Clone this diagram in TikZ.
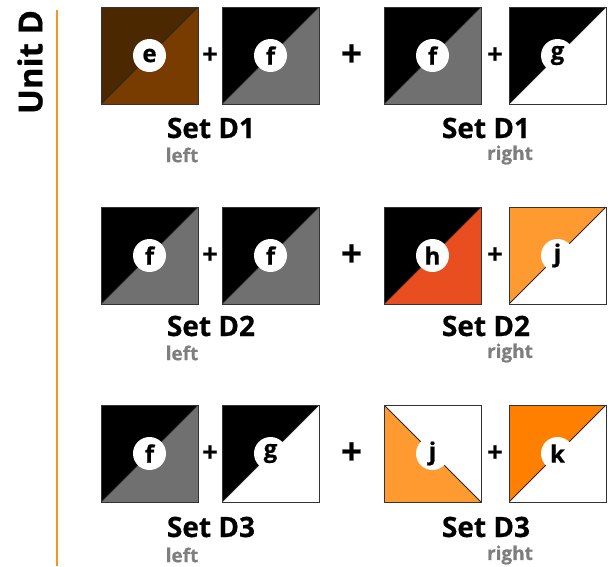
\documentclass[tikz,border=0pt]{standalone}
\usepackage{fontspec}
\setmainfont{Open Sans}[BoldFeatures={FakeBold=0.6}]
\usetikzlibrary{positioning, calc}
\definecolor{brownDark}{HTML}{4B2800}
\definecolor{brownLight}{HTML}{783C00}
\definecolor{midGray}{HTML}{707070}
\definecolor{hRed}{HTML}{E84E1F}
\definecolor{jOrange}{HTML}{FF9A30}
\definecolor{kOrange}{HTML}{FF8000}
\definecolor{ruleOrange}{HTML}{F7941D}
\tikzset{
  % tiles: #1 upper-left half, #2 lower-right half
  tile/.style 2 args={rectangle, minimum size=97pt, inner sep=0pt, outer sep=0pt, draw=black!80, line width=1pt,
    path picture={
      \fill[#1] (path picture bounding box.south west) -- (path picture bounding box.north west) -- (path picture bounding box.north east) -- cycle;
      \fill[#2] (path picture bounding box.south west) -- (path picture bounding box.south east) -- (path picture bounding box.north east) -- cycle;
      \draw[black!85, line width=1pt] (path picture bounding box.south west) -- (path picture bounding box.north east);
    }},
  % flipped tiles: #1 lower-left half, #2 upper-right half
  tileflip/.style 2 args={rectangle, minimum size=97pt, inner sep=0pt, outer sep=0pt, draw=black!80, line width=1pt,
    path picture={
      \fill[#1] (path picture bounding box.north west) -- (path picture bounding box.south west) -- (path picture bounding box.south east) -- cycle;
      \fill[#2] (path picture bounding box.north west) -- (path picture bounding box.north east) -- (path picture bounding box.south east) -- cycle;
      \draw[black!85, line width=1pt] (path picture bounding box.north west) -- (path picture bounding box.south east);
    }},
  badge/.style={circle, fill=white, minimum size=33pt, inner sep=0pt, font=\bfseries\fontsize{24}{24}\selectfont},
  plus/.style={font=\bfseries\fontsize{27}{27}\selectfont, inner sep=0pt},
  bigplus/.style={font=\bfseries\fontsize{37}{37}\selectfont, inner sep=0pt},
  setlabel/.style={font=\bfseries\fontsize{28}{28}\selectfont, inner sep=0pt},
  sidelabel/.style={font=\bfseries\fontsize{19}{19}\selectfont, text=midGray!90, inner sep=0pt},
}
\begin{document}
\begin{tikzpicture}[x=1pt, y=-1pt]
  \useasboundingbox (0,0) rectangle (616,566);

  % Unit heading
  \node[rotate=90, font=\bfseries\fontsize{33}{33}\selectfont, inner sep=0pt] (unit) at (30,62) {Unit D};
  \coordinate (ruletop) at (57,10);
  \coordinate (rulebot) at (57,566);
  \draw[ruleOrange, line width=1.5pt] (ruletop) -- (rulebot);

  % Set D1
  \node[tile={brownDark}{brownLight}, anchor=north west] (t11) at (101,7) {};
  \node[tile={black}{midGray}, right=24pt of t11] (t12) {};
  \node[tile={black}{midGray}, right=65pt of t12] (t13) {};
  \node[tile={black}{white}, right=28pt of t13] (t14) {};
  \node[badge] (b11) at (t11) {e};
  \node[badge] (b12) at (t12) {f};
  \node[badge] (b13) at (t13) {f};
  \node[badge] (b14) at (t14) {g};
  \node[plus] (p11) at ($(t11.east)!0.5!(t12.west)$) {+};
  \node[bigplus] (p12) at ($(t12.east)!0.5!(t13.west)$) {+};
  \node[plus] (p13) at ($(t13.east)!0.5!(t14.west)$) {+};
  \node[setlabel] (s1l) at (211,128) {Set D1};
  \node[sidelabel] (l1) at (182,155) {left};
  \node[setlabel] (s1r) at (486,128) {Set D1};
  \node[sidelabel] (r1) at (510,155) {right};

  % Set D2
  \node[tile={black}{midGray}, anchor=north west] (t21) at (101,207) {};
  \node[tile={black}{midGray}, right=24pt of t21] (t22) {};
  \node[tile={black}{hRed}, right=65pt of t22] (t23) {};
  \node[tile={jOrange}{white}, right=28pt of t23] (t24) {};
  \node[badge] (b21) at (t21) {f};
  \node[badge] (b22) at (t22) {f};
  \node[badge] (b23) at (t23) {h};
  \node[badge] (b24) at (t24) {j};
  \node[plus] (p21) at ($(t21.east)!0.5!(t22.west)$) {+};
  \node[bigplus] (p22) at ($(t22.east)!0.5!(t23.west)$) {+};
  \node[plus] (p23) at ($(t23.east)!0.5!(t24.west)$) {+};
  \node[setlabel] (s2l) at (211,326) {Set D2};
  \node[sidelabel] (l2) at (182,353) {left};
  \node[setlabel] (s2r) at (486,326) {Set D2};
  \node[sidelabel] (r2) at (510,353) {right};

  % Set D3
  \node[tile={black}{midGray}, anchor=north west] (t31) at (101,405) {};
  \node[tile={black}{white}, right=24pt of t31] (t32) {};
  \node[tileflip={jOrange}{white}, right=65pt of t32] (t33) {};
  \node[tile={kOrange}{white}, right=28pt of t33] (t34) {};
  \node[badge] (b31) at (t31) {f};
  \node[badge] (b32) at (t32) {g};
  \node[badge] (b33) at (t33) {j};
  \node[badge] (b34) at (t34) {k};
  \node[plus] (p31) at ($(t31.east)!0.5!(t32.west)$) {+};
  \node[bigplus] (p32) at ($(t32.east)!0.5!(t33.west)$) {+};
  \node[plus] (p33) at ($(t33.east)!0.5!(t34.west)$) {+};
  \node[setlabel] (s3l) at (211,527) {Set D3};
  \node[sidelabel] (l3) at (182,555) {left};
  \node[setlabel] (s3r) at (486,527) {Set D3};
  \node[sidelabel] (r3) at (510,555) {right};
\end{tikzpicture}
\end{document}
